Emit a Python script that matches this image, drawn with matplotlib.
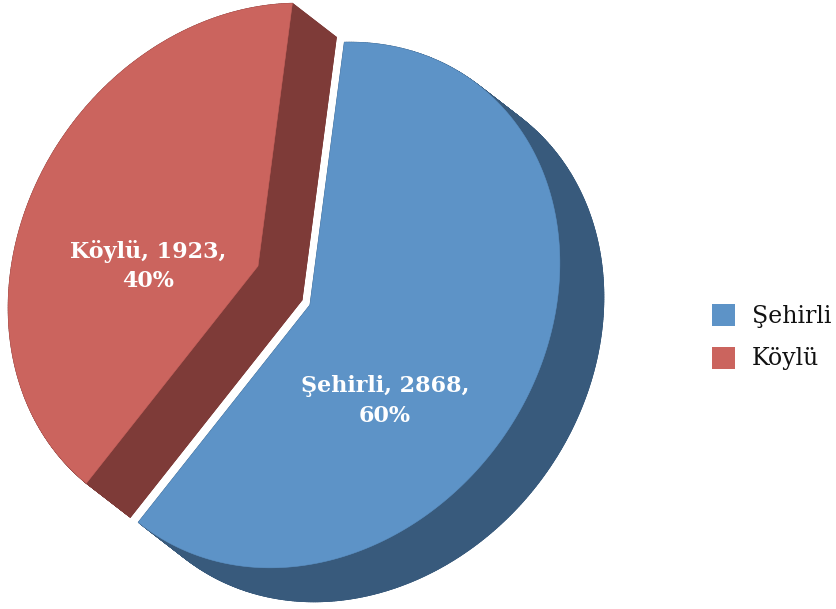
import numpy as np
import matplotlib
matplotlib.use('Agg')
import matplotlib.pyplot as plt
from matplotlib.patches import Polygon, Rectangle
from matplotlib.collections import PolyCollection

# ---- data ----
categories = ['Şehirli', 'Köylü']
values = [2868, 1923]

# ---- style ----
top_colors = ['#5d93c7', '#cb645e']
side_colors = ['#385a7c', '#7e3b38']
W, H = 836, 609
apex = {'Şehirli': (310, 305), 'Köylü': (258, 266)}      # exploded slice tips (px)
label_pos = {'Şehirli': (385, 401), 'Köylü': (148, 266)}
depth = np.array([44.0, 34.0])
A, B, TH = 277.0, 234.0, np.deg2rad(53.8)   # projected disc ellipse
start_angle = 33.0
FONT = 'DejaVu Serif'

fig = plt.figure(figsize=(W / 100, H / 100), dpi=100)
ax = fig.add_axes([0, 0, 1, 1])
ax.set_xlim(0, W)
ax.set_ylim(H, 0)
ax.axis('off')


def proj(phi_deg):
    p = np.deg2rad(phi_deg)
    u, v = A * np.cos(p), B * np.sin(p)
    x = u * np.cos(TH) - v * np.sin(TH)
    y = u * np.sin(TH) + v * np.cos(TH)
    return np.column_stack([x, -y])


total = float(sum(values))
slices = []
a0 = start_angle
for cat, val, tc, sc in zip(categories, values, top_colors, side_colors):
    span = 360.0 * val / total
    a1 = a0 - span  # clockwise
    phis = np.linspace(a0, a1, 400)
    c = np.array(apex[cat], dtype=float)
    pts = np.vstack([c[None, :], c + proj(phis)])
    slices.append((cat, val, pts, tc, sc))
    a0 = a1

# draw back slice (Köylü) first, then front (Şehirli)
for cat, val, pts, tc, sc in reversed(slices):
    bottom = pts + depth
    n = len(pts)
    quads = []
    for i in range(n):
        p, q = pts[i], pts[(i + 1) % n]
        quads.append([p, q, q + depth, p + depth])
    ax.add_patch(Polygon(bottom, closed=True, fc=sc, ec=sc, lw=0.6))
    ax.add_collection(PolyCollection(quads, facecolors=sc, edgecolors=sc, linewidths=0.6))
    ax.add_patch(Polygon(pts, closed=True, fc=tc, ec=tc, lw=0.4))

for cat, val in zip(categories, values):
    pct = 100.0 * val / total
    x, y = label_pos[cat]
    ax.text(x, y, f"{cat}, {val},\n{pct:.0f}%", color='white', fontsize=16,
            fontweight='bold', family=FONT, ha='center', va='center',
            linespacing=1.45)

# legend
for i, (cat, tc) in enumerate(zip(categories, top_colors)):
    y0 = 304 + i * 43
    ax.add_patch(Rectangle((712, y0), 23, 22, fc=tc, ec='none'))
    ax.text(752, y0 + 12, cat, fontsize=17, family=FONT, color='#111111',
            ha='left', va='center')

fig.savefig('out.png', dpi=100)
